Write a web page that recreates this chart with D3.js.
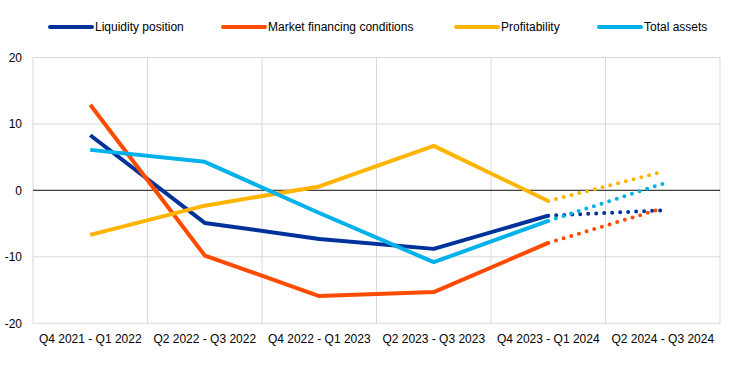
<!DOCTYPE html>
<html><head><meta charset="utf-8">
<script src="https://cdn.jsdelivr.net/npm/d3@7"></script>
<style>
body{margin:0;background:#fff;}
text{font-family:"Liberation Sans",Arial,sans-serif;}
</style></head>
<body><svg id="c" width="744" height="378"></svg>
<script>
const categories = ["Q4 2021 - Q1 2022","Q2 2022 - Q3 2022","Q4 2022 - Q1 2023","Q2 2023 - Q3 2023","Q4 2023 - Q1 2024","Q2 2024 - Q3 2024"];
const seriesNames = ["Liquidity position","Market financing conditions","Profitability","Total assets"];
const seriesColors = ["#003299","#ff4b00","#ffb400","#00b1ea"];
const liquidity = [8.3, -4.9, -7.3, -8.8, -3.8, -3.0];
const marketFinancing = [12.9, -9.8, -15.9, -15.3, -7.9, -2.7];
const profitability = [-6.7, -2.3, 0.6, 6.7, -1.6, 2.8];
const totalAssets = [6.1, 4.3, -3.4, -10.8, -4.6, 1.0];
const yTicks = [-20, -10, 0, 10, 20];
const expectedFrom = 4; // index where expectations (dotted) begin

(function () {
const allSeries = [liquidity, marketFinancing, profitability, totalAssets];
const svg = d3.select("#c");
const pL = 33, pR = 720, pT = 57.5, pB = 323.3;

const x = d3.scaleBand().domain(categories).range([pL, pR]).padding(0);
const y = d3.scaleLinear().domain([-20, 20]).range([pB, pT]);

// horizontal grid
svg.append("g").selectAll("line").data(yTicks).join("line")
  .attr("x1", pL).attr("x2", pR)
  .attr("y1", d => y(d)).attr("y2", d => y(d))
  .attr("stroke", "#d9d9d9").attr("stroke-width", 1);
// vertical grid
const vx = categories.map(c => x(c)).concat([pR]);
svg.append("g").selectAll("line").data(vx).join("line")
  .attr("x1", d => d).attr("x2", d => d)
  .attr("y1", pT).attr("y2", pB)
  .attr("stroke", "#d9d9d9").attr("stroke-width", 1);
// zero line
svg.append("line").attr("x1", pL).attr("x2", pR).attr("y1", y(0)).attr("y2", y(0))
  .attr("stroke", "#404040").attr("stroke-width", 1.3);

// y axis labels
svg.append("g").selectAll("text").data(yTicks).join("text")
  .attr("x", 22).attr("y", d => y(d)).attr("dy", "0.35em")
  .attr("text-anchor", "end").attr("font-size", 12).attr("fill", "#000")
  .text(d => d);
// x axis labels
svg.append("g").selectAll("text").data(categories).join("text")
  .attr("x", d => x(d) + x.bandwidth() / 2).attr("y", 343)
  .attr("text-anchor", "middle").attr("font-size", 12).attr("fill", "#000")
  .text(d => d);

const cx = i => x(categories[i]) + x.bandwidth() / 2;
const line = d3.line().x(d => cx(d.i)).y(d => y(d.v));

allSeries.forEach((s, k) => {
  const pts = s.map((v, i) => ({i, v}));
  svg.append("path").datum(pts.slice(0, expectedFrom + 1))
    .attr("d", line).attr("fill", "none")
    .attr("stroke", seriesColors[k]).attr("stroke-width", 4)
    .attr("stroke-linejoin", "round");
});
allSeries.forEach((s, k) => {
  const pts = s.map((v, i) => ({i, v}));
  svg.append("path").datum(pts.slice(expectedFrom))
    .attr("d", line).attr("fill", "none")
    .attr("stroke", seriesColors[k]).attr("stroke-width", 4)
    .attr("stroke-linecap", "round").attr("stroke-dasharray", "0,8");
});

// legend
const legendX = [50, 223, 456, 599];
const lg = svg.append("g").selectAll("g").data(seriesNames).join("g")
  .attr("transform", (d, i) => `translate(${legendX[i]},27)`);
lg.append("line").attr("x1", 0).attr("x2", 42).attr("y1", 0).attr("y2", 0)
  .attr("stroke", (d, i) => seriesColors[i]).attr("stroke-width", 4).attr("stroke-linecap", "round");
lg.append("text").attr("x", 45).attr("y", 0).attr("dy", "0.35em")
  .attr("font-size", 12).attr("fill", "#000").text(d => d);
})();
</script></body></html>
